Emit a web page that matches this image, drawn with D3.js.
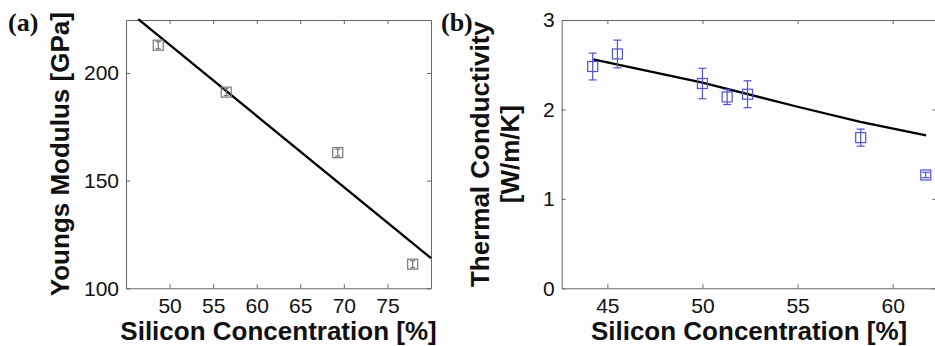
<!DOCTYPE html>
<html>
<head>
<meta charset="utf-8">
<script src="https://cdn.jsdelivr.net/npm/d3@7"></script>
<style>
	body { margin: 0; background: #fdfdfd; }
	svg { display: block; font-family: "Liberation Sans", Arial, sans-serif; }
	.axis path, .axis line { stroke: #666; stroke-width: 1; }
	.axis text { font-size: 21px; fill: #111; }
	.label { font-size: 26px; font-weight: bold; fill: #111; }
	.tag { font-family: "Liberation Serif", "Times New Roman", serif; font-size: 26px; font-weight: bold; fill: #111; }
</style>
</head>
<body>
<svg id="chart" width="935" height="346"></svg>
<script>
// (a) Youngs modulus
const siliconA = [48.7, 56.5, 69.3, 77.9];
const modulusA = [212.9, 191.1, 163.0, 111.2];
const modulusErrA = [1.6, 1.6, 1.6, 1.6];
const fitXA = [46.4, 80];
const fitYA = [225, 114];
const xTicksA = [50, 55, 60, 65, 70, 75];
const yTicksA = [100, 150, 200];

// (b) thermal conductivity
const siliconB = [44.23, 45.53, 50.0, 51.3, 52.37, 58.32, 61.74];
const conductB = [2.48, 2.62, 2.29, 2.14, 2.17, 1.685, 1.267];
const conductErrB = [0.15, 0.155, 0.17, 0.085, 0.15, 0.095, 0.03];
const fitXB = [44.26, 50, 55, 58.3, 61.76];
const fitYB = [2.56, 2.30, 2.03, 1.86, 1.71];
const xTicksB = [45, 50, 55, 60];
const yTicksB = [0, 1, 2, 3];

const svg = d3.select("#chart");

function drawPanel(p) {
	const x = d3.scaleLinear().domain(p.xDomain).range([p.left, p.right]);
	const y = d3.scaleLinear().domain(p.yDomain).range([p.bottom, p.top]);
	const fmt = d3.format("d");

	const g = svg.append("g");

	// box with inward ticks on all four sides
	g.append("g").attr("class", "axis")
		.attr("transform", "translate(0," + p.bottom + ")")
		.call(d3.axisBottom(x).tickValues(p.xTicks).tickFormat(fmt).tickSizeInner(-4).tickSizeOuter(0).tickPadding(10));
	g.append("g").attr("class", "axis")
		.attr("transform", "translate(" + p.left + ",0)")
		.call(d3.axisLeft(y).tickValues(p.yTicks).tickFormat(fmt).tickSizeInner(-4).tickSizeOuter(0).tickPadding(7));
	g.append("g").attr("class", "axis")
		.attr("transform", "translate(0," + p.top + ")")
		.call(d3.axisTop(x).tickValues(p.xTicks).tickSizeInner(-4).tickSizeOuter(0).tickFormat(""));
	g.append("g").attr("class", "axis")
		.attr("transform", "translate(" + p.right + ",0)")
		.call(d3.axisRight(y).tickValues(p.yTicks).tickSizeInner(-4).tickSizeOuter(0).tickFormat(""));

	// fit line
	const line = d3.line().x(d => x(d[0])).y(d => y(d[1]));
	g.append("path")
		.datum(d3.zip(p.fitX, p.fitY))
		.attr("d", line)
		.attr("fill", "none")
		.attr("stroke", "#000")
		.attr("stroke-width", 2.3);

	// markers with error bars
	const pts = g.selectAll("g.pt")
		.data(d3.zip(p.xs, p.ys, p.errs))
		.enter().append("g")
		.attr("class", "pt")
		.attr("fill", "none")
		.attr("stroke", p.color)
		.attr("stroke-width", 1.2);
	pts.append("line")
		.attr("x1", d => x(d[0])).attr("x2", d => x(d[0]))
		.attr("y1", d => y(d[1] - d[2])).attr("y2", d => y(d[1] + d[2]));
	pts.append("line")
		.attr("x1", d => x(d[0]) - p.cap / 2).attr("x2", d => x(d[0]) + p.cap / 2)
		.attr("y1", d => y(d[1] - d[2])).attr("y2", d => y(d[1] - d[2]));
	pts.append("line")
		.attr("x1", d => x(d[0]) - p.cap / 2).attr("x2", d => x(d[0]) + p.cap / 2)
		.attr("y1", d => y(d[1] + d[2])).attr("y2", d => y(d[1] + d[2]));
	pts.append("rect")
		.attr("x", d => x(d[0]) - p.size / 2)
		.attr("y", d => y(d[1]) - p.size / 2)
		.attr("width", p.size)
		.attr("height", p.size);

	// x label
	g.append("text").attr("class", "label")
		.attr("x", (p.left + p.right) / 2)
		.attr("y", 340)
		.attr("text-anchor", "middle")
		.text("Silicon Concentration [%]");

	// y label lines
	p.yLabel.forEach((t, i) => {
		g.append("text").attr("class", "label")
			.attr("transform", "translate(" + p.yLabelX[i] + "," + (p.top + p.bottom) / 2 + ") rotate(-90)")
			.attr("text-anchor", "middle")
			.text(t);
	});

	g.append("text").attr("class", "tag")
		.attr("x", p.tagX).attr("y", 31)
		.text(p.tag);
}

drawPanel({
	xDomain: [45, 80], yDomain: [100, 224.6],
	left: 126, right: 431, top: 20, bottom: 288.3,
	xTicks: xTicksA, yTicks: yTicksA,
	xs: siliconA, ys: modulusA, errs: modulusErrA,
	fitX: fitXA, fitY: fitYA,
	color: "#777", size: 10, cap: 5,
	yLabel: ["Youngs Modulus [GPa]"], yLabelX: [69],
	tag: "(a)", tagX: 8
});

drawPanel({
	xDomain: [42.6, 62.3], yDomain: [0, 3],
	left: 561.7, right: 936.4, top: 20, bottom: 288.3,
	xTicks: xTicksB, yTicks: yTicksB,
	xs: siliconB, ys: conductB, errs: conductErrB,
	fitX: fitXB, fitY: fitYB,
	color: "#5252d6", size: 10, cap: 8,
	yLabel: ["Thermal Conductivity", "[W/m/K]"], yLabelX: [489, 519],
	tag: "(b)", tagX: 441
});
</script>
</body>
</html>
